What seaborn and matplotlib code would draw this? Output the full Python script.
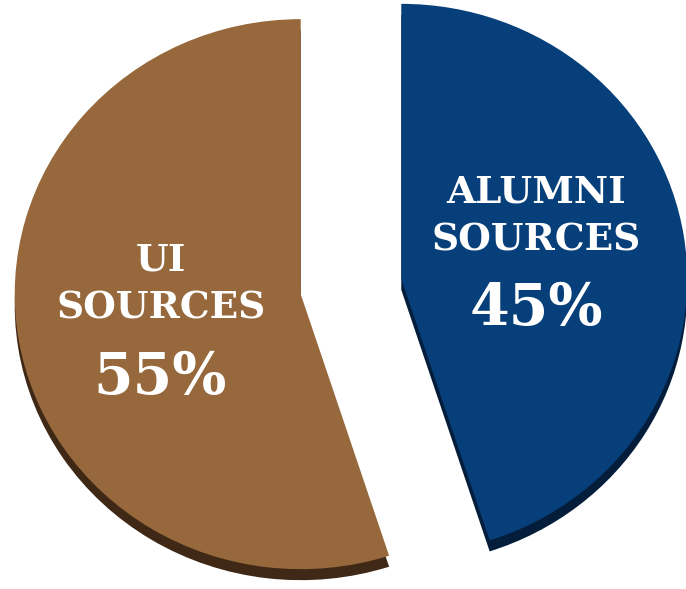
import matplotlib
matplotlib.use("Agg")
import matplotlib.pyplot as plt
import seaborn as sns

# Share of sources
categories = ["ALUMNI\nSOURCES", "UI\nSOURCES"]
shares = [45, 55]
face_colors = ["#073f7a", "#96683b"]
side_colors = ["#041d3b", "#3f2815"]

sns.set_theme(style="white")
plt.rcParams["font.family"] = ["DejaVu Serif", "DejaVu Sans"]

W, H = 686, 589
fig = plt.figure(figsize=(W / 100, H / 100), dpi=100)
ax = fig.add_axes([0, 0, 1, 1])

# pixel frame of the pie (center and horizontal / vertical radius)
cx, cy, rx, ry = 351, 286.5, 286, 275


def px(x):
    return (x - cx) / rx


def py(y):
    return (cy - y) / ry


explode = [0.178, 0.178]
common = dict(startangle=90, counterclock=False, explode=explode, radius=1,
              wedgeprops=dict(linewidth=0))

# extruded side of the disc, shifted straight down
ax.pie(shares, colors=side_colors, center=(0, -11 / ry), **common)
# top face
ax.pie(shares, colors=face_colors, center=(0, 0), **common)

ax.set_aspect("auto")
ax.set_xlim(px(0), px(W))
ax.set_ylim(py(H), py(0))
ax.axis("off")

label_pos = [(536, 216), (161, 284)]
pct_pos = [(536, 309), (160, 378)]
for name, val, (lx, ly), (qx, qy) in zip(categories, shares, label_pos, pct_pos):
    ax.text(px(lx), py(ly), name, ha="center", va="center", color="white",
            fontsize=27, fontweight="bold", linespacing=1.38)
    ax.text(px(qx), py(qy), f"{val}%", ha="center", va="center", color="white",
            fontsize=41, fontweight="bold")

fig.savefig("out.png", dpi=100)
